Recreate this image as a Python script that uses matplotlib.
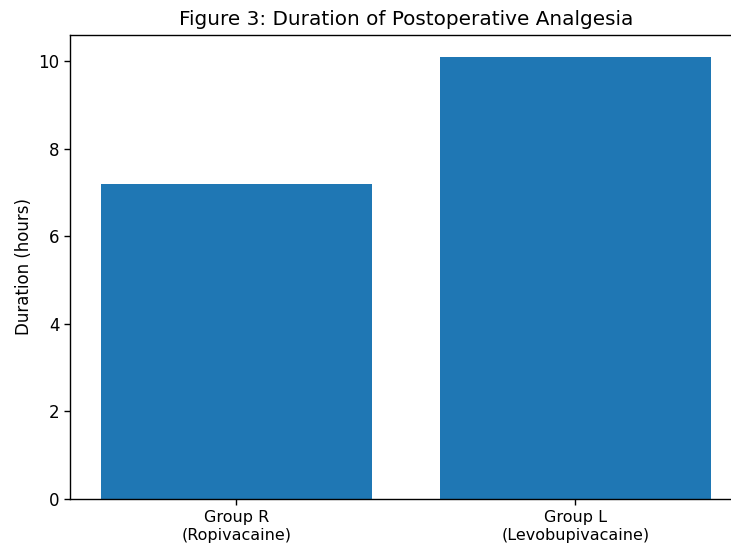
import matplotlib
matplotlib.use('Agg')
import matplotlib.pyplot as plt

# data
groups = ['Group R\n(Ropivacaine)', 'Group L\n(Levobupivacaine)']
durations = [7.2, 10.1]

# reference looks like a default plot scaled up by ~1.2
plt.rcParams['font.size'] = 12
plt.rcParams['axes.linewidth'] = 1.0
plt.rcParams['xtick.major.size'] = 4.2
plt.rcParams['ytick.major.size'] = 4.2
plt.rcParams['xtick.major.width'] = 1.0
plt.rcParams['ytick.major.width'] = 1.0

fig = plt.figure(figsize=(7.31, 5.46), dpi=100)
# the source image was cropped, so the right spine sits just past the edge
ax = fig.add_axes([0.0958, 0.0861, 0.9186, 0.8498])

ax.bar(groups, durations, color='#1f77b4', width=0.8)
ax.set_ylabel('Duration (hours)')
ax.set_title('Figure 3: Duration of Postoperative Analgesia', fontsize=14.4, pad=7)
ax.spines['right'].set_visible(False)
ax.tick_params(axis='x', pad=3.5)
for lbl in ax.get_xticklabels():
    lbl.set_fontsize(11.5)
    lbl.set_linespacing(1.3)

fig.savefig('out.png', dpi=100)
